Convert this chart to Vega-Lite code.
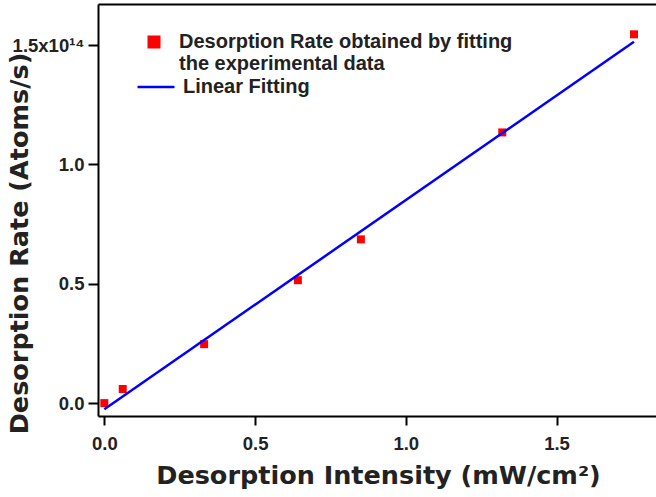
{
  "$schema": "https://vega.github.io/schema/vega-lite/v6.json",
  "width": 558,
  "height": 412,
  "autosize": {"type": "none"},
  "padding": {"left": 98, "top": 4, "right": 0, "bottom": 81},
  "background": "white",
  "config": {
    "view": {"stroke": null},
    "axis": {
      "grid": false,
      "domainColor": "black",
      "domainWidth": 2,
      "tickColor": "black",
      "tickWidth": 2,
      "labelFont": "Liberation Sans",
      "labelFontWeight": "bold",
      "labelFontSize": 18.5,
      "labelColor": "#222222",
      "titleFont": "DejaVu Sans",
      "titleFontWeight": "bold",
      "titleFontSize": 25.5,
      "titleColor": "#222222"
    },
    "legend": {
      "labelFont": "Liberation Sans",
      "labelFontWeight": "bold",
      "labelFontSize": 20,
      "labelColor": "#222222",
      "labelLimit": 0
    }
  },
  "layer": [
    {
      "data": {
        "values": [
          {"intensity": 0.0, "rate": 0.0, "series": "Desorption Rate obtained by fitting the experimental data"},
          {"intensity": 0.061, "rate": 0.059, "series": "Desorption Rate obtained by fitting the experimental data"},
          {"intensity": 0.331, "rate": 0.247, "series": "Desorption Rate obtained by fitting the experimental data"},
          {"intensity": 0.642, "rate": 0.515, "series": "Desorption Rate obtained by fitting the experimental data"},
          {"intensity": 0.851, "rate": 0.686, "series": "Desorption Rate obtained by fitting the experimental data"},
          {"intensity": 1.32, "rate": 1.134, "series": "Desorption Rate obtained by fitting the experimental data"},
          {"intensity": 1.757, "rate": 1.545, "series": "Desorption Rate obtained by fitting the experimental data"}
        ]
      },
      "mark": {"type": "square", "size": 64, "opacity": 1, "filled": true},
      "encoding": {
        "x": {
          "field": "intensity",
          "type": "quantitative",
          "scale": {"domain": [-0.021, 1.83], "nice": false, "zero": false},
          "axis": {
            "orient": "bottom",
            "values": [0, 0.5, 1, 1.5],
            "format": ".1f",
            "tickSize": 9,
            "labelPadding": 9,
            "title": "Desorption Intensity (mW/cm²)",
            "titleX": 280,
            "titleY": 67,
            "titleAlign": "center",
            "titleBaseline": "alphabetic"
          }
        },
        "y": {
          "field": "rate",
          "type": "quantitative",
          "scale": {"domain": [-0.054, 1.672], "nice": false, "zero": false},
          "axis": {
            "orient": "left",
            "values": [0, 0.5, 1, 1.5],
            "format": ".1f",
            "labelExpr": "datum.value == 1.5 ? '1.5x10¹⁴' : datum.label",
            "tickSize": 10,
            "labelPadding": 4,
            "title": "Desorption Rate (Atoms/s)",
            "titleX": -79,
            "titleY": 239,
            "titleAngle": -90,
            "titleAlign": "center",
            "titleBaseline": "middle"
          }
        },
        "fill": {
          "field": "series",
          "type": "nominal",
          "scale": {"range": ["#ff0000"]},
          "legend": {
            "title": null,
            "orient": "none",
            "legendX": 46,
            "legendY": 28,
            "padding": 0,
            "symbolType": "square",
            "symbolSize": 169,
            "symbolStrokeWidth": 0,
            "labelOffset": 15,
            "labelExpr": "['Desorption Rate obtained by fitting', 'the experimental data']",
            "encode": {"labels": {"update": {"lineHeight": {"value": 22}}}}
          }
        }
      }
    },
    {
      "data": {
        "values": [
          {"intensity": 0.0, "rate": -0.026, "series": "Linear Fitting"},
          {"intensity": 1.757, "rate": 1.514, "series": "Linear Fitting"}
        ]
      },
      "mark": {"type": "line", "strokeWidth": 2.5},
      "encoding": {
        "x": {
          "field": "intensity",
          "type": "quantitative",
          "scale": {"domain": [-0.021, 1.83], "nice": false, "zero": false},
          "axis": {"orient": "top", "labels": false, "ticks": false, "title": null, "domainWidth": 2}
        },
        "y": {
          "field": "rate",
          "type": "quantitative"
        },
        "stroke": {
          "field": "series",
          "type": "nominal",
          "scale": {"range": ["#0000ff"]},
          "legend": {
            "title": null,
            "orient": "none",
            "legendX": 38,
            "legendY": 63,
            "padding": 0,
            "symbolType": "stroke",
            "symbolSize": 1369,
            "symbolStrokeWidth": 2.5,
            "labelOffset": 7
          }
        }
      }
    }
  ],
  "resolve": {"axis": {"x": "independent"}, "scale": {"fill": "independent", "stroke": "independent"}, "legend": {"fill": "independent", "stroke": "independent"}}
}
